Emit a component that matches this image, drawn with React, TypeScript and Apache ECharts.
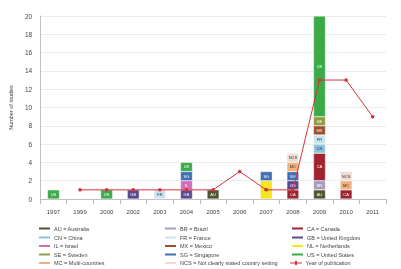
import React, { useEffect, useRef } from "react";
import * as echarts from "echarts";

const years = ["1997", "1999", "2000", "2002", "2003", "2004", "2005", "2006", "2007", "2008", "2009", "2010", "2011"];

const codes = ["AU", "BR", "CA", "CN", "FR", "GB", "IL", "MX", "NL", "SE", "SG", "US", "MC", "NCS"];
const names = [
  "AU = Australia", "BR = Brazil", "CA = Canada",
  "CN = China", "FR = France", "GB = United Kingdom",
  "IL = Israel", "MX = Mexico", "NL = Netherlands",
  "SE = Sweden", "SG = Singapore", "US = United States",
  "MC = Multi-countries", "NCS = Not clearly stated country setting",
];
const colors = [
  "#4e5530", "#a99bbf", "#9e2431",
  "#8cc3e0", "#c8e5f1", "#5a4a8c",
  "#d56ab8", "#9c4f2b", "#f3e51e",
  "#8f9d45", "#3f70b4", "#3daa49",
  "#f2b07c", "#efdcd2",
];
const labelColors = ["#fff", "#fff", "#fff", "#333", "#333", "#fff", "#fff", "#fff", "#333", "#fff", "#fff", "#fff", "#333", "#333"];

//                 1997 1999 2000 2002 2003 2004 2005 2006 2007 2008 2009 2010 2011
const AU = [null, null, null, null, null, null, 1, null, null, null, 1, null, null];
const BR = [null, null, null, null, null, null, null, null, null, null, 1, null, null];
const CA = [null, null, null, null, null, null, null, null, null, 1, 3, 1, null];
const CN = [null, null, null, null, null, null, null, null, null, null, 1, null, null];
const FR = [null, null, null, null, 1, null, null, null, null, null, 1, null, null];
const GB = [null, null, null, 1, null, 1, null, null, null, 1, null, null, null];
const IL = [null, null, null, null, null, 1, null, null, null, null, null, null, null];
const MX = [null, null, null, null, null, null, null, null, null, null, 1, null, null];
const NL = [null, null, null, null, null, null, null, null, 2, null, null, null, null];
const SE = [null, null, null, null, null, null, null, null, null, null, 1, null, null];
const SG = [null, null, null, null, null, 1, null, null, 1, 1, null, null, null];
const US = [1, null, 1, null, null, 1, null, null, null, null, 11, null, null];
const MC = [null, null, null, null, null, null, null, null, null, 1, null, 1, null];
const NCS = [null, null, null, null, null, null, null, null, null, 1, null, 1, null];
const publications = [null, 1, 1, 1, 1, 1, 1, 3, 1, 1, 13, 13, 9];

const countryData = [AU, BR, CA, CN, FR, GB, IL, MX, NL, SE, SG, US, MC, NCS];
const lineName = "Year of publication";
const yTicks = { min: 0, max: 20, interval: 2 };

export default function App() {
  const ref = useRef<HTMLDivElement>(null);
  useEffect(() => {
    if (!ref.current) return;
    const chart = echarts.init(ref.current, null, { renderer: "svg" });
    const font = "Liberation Sans";
    const barSeries = codes.map((code, i) => ({
      name: names[i],
      type: "bar",
      stack: "total",
      barWidth: 12,
      data: countryData[i],
      itemStyle: { color: colors[i], borderColor: "#fff", borderWidth: 0.4 },
      label: {
        show: true,
        position: "inside",
        fontSize: 4,
        fontFamily: font,
        color: labelColors[i],
        formatter: () => code,
      },
    }));
    const allNames = [...names, lineName];
    const colX = [37, 163, 290];
    const rowY = [229, 238, 246.5, 255, 263.5];
    const legends = allNames.map((n, k) => ({
      orient: "horizontal",
      left: colX[k % 3],
      top: rowY[Math.floor(k / 3)] - 3.5,
      padding: 0,
      itemWidth: 13,
      itemHeight: 4,
      icon: "rect",
      textStyle: { fontSize: 5.5, fontFamily: font, color: "#444", padding: [0, 0, 0, -2] },
      data: [
        n === lineName
          ? { name: n, icon: "path://M0,4 L12,4 L12,5 L0,5 Z M5,2.5 L7,2.5 L7,6.5 L5,6.5 Z" }
          : { name: n },
      ],
    }));
    chart.setOption({
      animation: false,
      textStyle: { fontFamily: font },
      legend: legends,
      grid: { left: 33, right: 15, top: 16, bottom: 70, containLabel: false },
      xAxis: {
        type: "category",
        data: years,
        axisLine: { lineStyle: { color: "#bfbfbf" } },
        axisTick: { show: true, alignWithLabel: false, lineStyle: { color: "#bfbfbf" } },
        axisLabel: { fontSize: 6, color: "#444", fontFamily: font, margin: 10, interval: 0 },
      },
      yAxis: {
        type: "value",
        ...yTicks,
        name: "Number of studies",
        nameLocation: "middle",
        nameGap: 19,
        nameTextStyle: { fontSize: 5.5, color: "#444", fontFamily: font },
        axisLine: { show: true, lineStyle: { color: "#bfbfbf" } },
        axisTick: { show: false },
        splitLine: { lineStyle: { color: "#e6e6e6", width: 0.8 } },
        axisLabel: { fontSize: 6.5, color: "#444", fontFamily: font, margin: 8 },
      },
      series: [
        ...barSeries,
        {
          name: lineName,
          type: "line",
          data: publications,
          connectNulls: false,
          symbol: "circle",
          symbolSize: 3.5,
          lineStyle: { color: "#d9303a", width: 1 },
          itemStyle: { color: "#d9303a" },
          z: 5,
        },
      ],
    });
    return () => chart.dispose();
  }, []);
  return <div ref={ref} style={{ position: "fixed", left: 0, top: 0, width: 401, height: 269 }} />;
}
